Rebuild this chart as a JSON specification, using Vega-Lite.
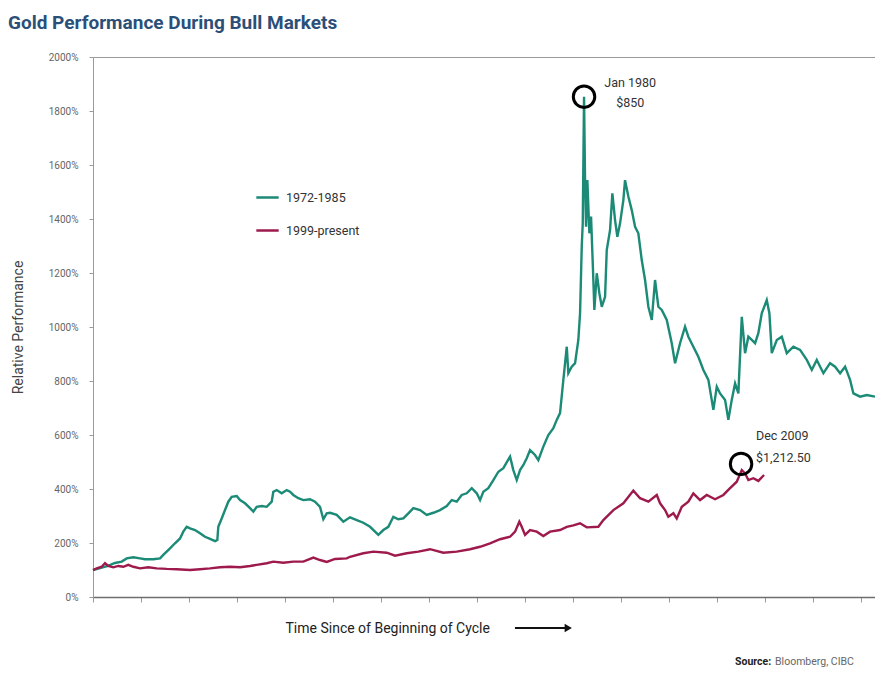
{
  "$schema": "https://vega.github.io/schema/vega-lite/v6.json",
  "width": 782,
  "height": 540,
  "autosize": {"type": "none"},
  "padding": {"left": 93, "top": 57, "right": 0, "bottom": 76},
  "background": "white",
  "config": {
    "font": "Roboto",
    "view": {"stroke": "#9a9a9a", "strokeWidth": 1}
  },
  "title": {
    "text": "Gold Performance During Bull Markets",
    "anchor": "start",
    "frame": "group",
    "dx": -85,
    "offset": 19,
    "font": "Roboto",
    "fontSize": 19,
    "fontWeight": "bold",
    "color": "#2b4f78"
  },
  "encoding": {
    "x": {
      "field": "t",
      "type": "quantitative",
      "scale": {"domain": [0, 16.29], "nice": false, "zero": false},
      "axis": {
        "title": "Time Since of Beginning of Cycle",
        "values": [0,1,2,3,4,5,6,7,8,9,10,11,12,13,14,15,16],
        "labels": false,
        "grid": false,
        "ticks": true,
        "tickSize": 5,
        "tickColor": "#9a9a9a",
        "domainColor": "#6e6e6e",
        "domainWidth": 1.5,
        "titleFont": "Roboto",
        "titleFontSize": 14,
        "titleFontWeight": "normal",
        "titleColor": "#222222",
        "titleAnchor": "start",
        "titleAlign": "left",
        "titleBaseline": "middle",
        "titleX": 192,
        "titleY": 31
      }
    },
    "y": {
      "field": "v",
      "type": "quantitative",
      "scale": {"domain": [0, 2000], "nice": false},
      "axis": {
        "title": "Relative Performance",
        "values": [0,200,400,600,800,1000,1200,1400,1600,1800,2000],
        "labelExpr": "datum.value + '%'",
        "grid": false,
        "tickSize": 4,
        "tickColor": "#9a9a9a",
        "domainColor": "#9a9a9a",
        "labelPadding": 11,
        "labelFont": "Roboto",
        "labelFontSize": 10,
        "labelColor": "#666666",
        "titleFont": "Roboto",
        "titleFontSize": 14,
        "titleFontWeight": "normal",
        "titleColor": "#444444",
        "titleAngle": 270,
        "titleAlign": "center",
        "titleBaseline": "middle",
        "titleX": -75,
        "titleY": 270
      }
    }
  },
  "layer": [
    {
      "data": {"values": [
        {"series":"1972-1985","t":0,"v":100},{"series":"1972-1985","t":0.146,"v":107},{"series":"1972-1985","t":0.313,"v":115},{"series":"1972-1985","t":0.458,"v":126},{"series":"1972-1985","t":0.598,"v":131},{"series":"1972-1985","t":0.702,"v":143},{"series":"1972-1985","t":0.84,"v":147},{"series":"1972-1985","t":0.979,"v":143},{"series":"1972-1985","t":1.083,"v":140},{"series":"1972-1985","t":1.256,"v":140},{"series":"1972-1985","t":1.396,"v":143},{"series":"1972-1985","t":1.465,"v":156},{"series":"1972-1985","t":1.604,"v":180},{"series":"1972-1985","t":1.708,"v":199},{"series":"1972-1985","t":1.813,"v":217},{"series":"1972-1985","t":1.881,"v":242},{"series":"1972-1985","t":1.952,"v":260},{"series":"1972-1985","t":2.021,"v":254},{"series":"1972-1985","t":2.125,"v":248},{"series":"1972-1985","t":2.229,"v":236},{"series":"1972-1985","t":2.333,"v":223},{"series":"1972-1985","t":2.438,"v":215},{"series":"1972-1985","t":2.542,"v":207},{"series":"1972-1985","t":2.59,"v":211},{"series":"1972-1985","t":2.61,"v":260},{"series":"1972-1985","t":2.681,"v":291},{"series":"1972-1985","t":2.75,"v":322},{"series":"1972-1985","t":2.819,"v":353},{"series":"1972-1985","t":2.89,"v":371},{"series":"1972-1985","t":2.994,"v":374},{"series":"1972-1985","t":3.063,"v":359},{"series":"1972-1985","t":3.167,"v":347},{"series":"1972-1985","t":3.271,"v":329},{"series":"1972-1985","t":3.34,"v":316},{"series":"1972-1985","t":3.41,"v":334},{"series":"1972-1985","t":3.515,"v":337},{"series":"1972-1985","t":3.619,"v":334},{"series":"1972-1985","t":3.723,"v":353},{"series":"1972-1985","t":3.756,"v":390},{"series":"1972-1985","t":3.827,"v":396},{"series":"1972-1985","t":3.931,"v":384},{"series":"1972-1985","t":4.035,"v":396},{"series":"1972-1985","t":4.104,"v":390},{"series":"1972-1985","t":4.173,"v":378},{"series":"1972-1985","t":4.277,"v":366},{"series":"1972-1985","t":4.381,"v":359},{"series":"1972-1985","t":4.521,"v":362},{"series":"1972-1985","t":4.625,"v":353},{"series":"1972-1985","t":4.729,"v":334},{"series":"1972-1985","t":4.798,"v":288},{"series":"1972-1985","t":4.869,"v":310},{"series":"1972-1985","t":4.938,"v":312},{"series":"1972-1985","t":5.077,"v":304},{"series":"1972-1985","t":5.215,"v":279},{"series":"1972-1985","t":5.354,"v":295},{"series":"1972-1985","t":5.494,"v":285},{"series":"1972-1985","t":5.631,"v":275},{"series":"1972-1985","t":5.771,"v":260},{"series":"1972-1985","t":5.875,"v":242},{"series":"1972-1985","t":5.944,"v":230},{"series":"1972-1985","t":6.048,"v":248},{"series":"1972-1985","t":6.152,"v":260},{"series":"1972-1985","t":6.256,"v":297},{"series":"1972-1985","t":6.36,"v":288},{"series":"1972-1985","t":6.465,"v":291},{"series":"1972-1985","t":6.569,"v":310},{"series":"1972-1985","t":6.673,"v":329},{"series":"1972-1985","t":6.813,"v":322},{"series":"1972-1985","t":6.952,"v":304},{"series":"1972-1985","t":7.09,"v":312},{"series":"1972-1985","t":7.229,"v":322},{"series":"1972-1985","t":7.369,"v":337},{"series":"1972-1985","t":7.473,"v":359},{"series":"1972-1985","t":7.577,"v":353},{"series":"1972-1985","t":7.681,"v":378},{"series":"1972-1985","t":7.785,"v":384},{"series":"1972-1985","t":7.89,"v":403},{"series":"1972-1985","t":7.994,"v":384},{"series":"1972-1985","t":8.063,"v":359},{"series":"1972-1985","t":8.131,"v":390},{"series":"1972-1985","t":8.235,"v":403},{"series":"1972-1985","t":8.34,"v":433},{"series":"1972-1985","t":8.444,"v":464},{"series":"1972-1985","t":8.548,"v":477},{"series":"1972-1985","t":8.688,"v":520},{"series":"1972-1985","t":8.756,"v":470},{"series":"1972-1985","t":8.827,"v":433},{"series":"1972-1985","t":8.896,"v":470},{"series":"1972-1985","t":8.965,"v":489},{"series":"1972-1985","t":9.035,"v":514},{"series":"1972-1985","t":9.104,"v":544},{"series":"1972-1985","t":9.208,"v":526},{"series":"1972-1985","t":9.277,"v":507},{"series":"1972-1985","t":9.381,"v":557},{"series":"1972-1985","t":9.485,"v":600},{"series":"1972-1985","t":9.59,"v":625},{"series":"1972-1985","t":9.66,"v":656},{"series":"1972-1985","t":9.729,"v":681},{"series":"1972-1985","t":9.798,"v":804},{"series":"1972-1985","t":9.869,"v":927},{"series":"1972-1985","t":9.902,"v":829},{"series":"1972-1985","t":9.973,"v":853},{"series":"1972-1985","t":10.042,"v":866},{"series":"1972-1985","t":10.11,"v":952},{"series":"1972-1985","t":10.146,"v":1051},{"series":"1972-1985","t":10.181,"v":1297},{"series":"1972-1985","t":10.202,"v":1384},{"series":"1972-1985","t":10.229,"v":1853},{"series":"1972-1985","t":10.25,"v":1544},{"series":"1972-1985","t":10.271,"v":1371},{"series":"1972-1985","t":10.298,"v":1544},{"series":"1972-1985","t":10.34,"v":1347},{"series":"1972-1985","t":10.375,"v":1409},{"series":"1972-1985","t":10.423,"v":1174},{"series":"1972-1985","t":10.444,"v":1063},{"series":"1972-1985","t":10.494,"v":1199},{"series":"1972-1985","t":10.548,"v":1125},{"series":"1972-1985","t":10.598,"v":1075},{"series":"1972-1985","t":10.667,"v":1112},{"series":"1972-1985","t":10.702,"v":1285},{"series":"1972-1985","t":10.771,"v":1359},{"series":"1972-1985","t":10.819,"v":1495},{"series":"1972-1985","t":10.875,"v":1396},{"series":"1972-1985","t":10.923,"v":1334},{"series":"1972-1985","t":10.979,"v":1384},{"series":"1972-1985","t":11.048,"v":1470},{"series":"1972-1985","t":11.083,"v":1544},{"series":"1972-1985","t":11.152,"v":1483},{"series":"1972-1985","t":11.223,"v":1433},{"series":"1972-1985","t":11.292,"v":1371},{"series":"1972-1985","t":11.36,"v":1347},{"series":"1972-1985","t":11.431,"v":1248},{"series":"1972-1985","t":11.5,"v":1174},{"series":"1972-1985","t":11.569,"v":1075},{"series":"1972-1985","t":11.64,"v":1026},{"series":"1972-1985","t":11.708,"v":1174},{"series":"1972-1985","t":11.777,"v":1075},{"series":"1972-1985","t":11.848,"v":1063},{"series":"1972-1985","t":11.952,"v":1026},{"series":"1972-1985","t":12.056,"v":940},{"series":"1972-1985","t":12.125,"v":866},{"series":"1972-1985","t":12.229,"v":940},{"series":"1972-1985","t":12.333,"v":1001},{"series":"1972-1985","t":12.402,"v":964},{"series":"1972-1985","t":12.506,"v":927},{"series":"1972-1985","t":12.61,"v":890},{"series":"1972-1985","t":12.715,"v":841},{"series":"1972-1985","t":12.819,"v":804},{"series":"1972-1985","t":12.923,"v":693},{"series":"1972-1985","t":12.994,"v":779},{"series":"1972-1985","t":13.063,"v":754},{"series":"1972-1985","t":13.167,"v":730},{"series":"1972-1985","t":13.235,"v":656},{"series":"1972-1985","t":13.306,"v":730},{"series":"1972-1985","t":13.375,"v":791},{"series":"1972-1985","t":13.444,"v":754},{"series":"1972-1985","t":13.515,"v":1038},{"series":"1972-1985","t":13.583,"v":903},{"series":"1972-1985","t":13.652,"v":964},{"series":"1972-1985","t":13.723,"v":952},{"series":"1972-1985","t":13.792,"v":940},{"series":"1972-1985","t":13.86,"v":977},{"series":"1972-1985","t":13.931,"v":1051},{"series":"1972-1985","t":14.035,"v":1100},{"series":"1972-1985","t":14.09,"v":1051},{"series":"1972-1985","t":14.14,"v":903},{"series":"1972-1985","t":14.244,"v":952},{"series":"1972-1985","t":14.348,"v":964},{"series":"1972-1985","t":14.452,"v":903},{"series":"1972-1985","t":14.59,"v":927},{"series":"1972-1985","t":14.729,"v":915},{"series":"1972-1985","t":14.869,"v":878},{"series":"1972-1985","t":14.973,"v":841},{"series":"1972-1985","t":15.077,"v":878},{"series":"1972-1985","t":15.215,"v":829},{"series":"1972-1985","t":15.354,"v":866},{"series":"1972-1985","t":15.458,"v":853},{"series":"1972-1985","t":15.563,"v":829},{"series":"1972-1985","t":15.667,"v":853},{"series":"1972-1985","t":15.771,"v":804},{"series":"1972-1985","t":15.84,"v":754},{"series":"1972-1985","t":15.979,"v":742},{"series":"1972-1985","t":16.119,"v":748},{"series":"1972-1985","t":16.29,"v":742},
        {"series":"1999-present","t":0,"v":100},{"series":"1999-present","t":0.077,"v":106},{"series":"1999-present","t":0.181,"v":112},{"series":"1999-present","t":0.25,"v":125},{"series":"1999-present","t":0.319,"v":115},{"series":"1999-present","t":0.423,"v":110},{"series":"1999-present","t":0.527,"v":115},{"series":"1999-present","t":0.631,"v":112},{"series":"1999-present","t":0.735,"v":119},{"series":"1999-present","t":0.84,"v":112},{"series":"1999-present","t":0.979,"v":106},{"series":"1999-present","t":1.152,"v":110},{"series":"1999-present","t":1.327,"v":106},{"series":"1999-present","t":1.535,"v":104},{"series":"1999-present","t":1.744,"v":103},{"series":"1999-present","t":2.021,"v":100},{"series":"1999-present","t":2.229,"v":103},{"series":"1999-present","t":2.438,"v":106},{"series":"1999-present","t":2.646,"v":110},{"series":"1999-present","t":2.854,"v":112},{"series":"1999-present","t":3.063,"v":110},{"series":"1999-present","t":3.271,"v":115},{"series":"1999-present","t":3.41,"v":119},{"series":"1999-present","t":3.619,"v":125},{"series":"1999-present","t":3.756,"v":131},{"series":"1999-present","t":3.965,"v":127},{"series":"1999-present","t":4.173,"v":131},{"series":"1999-present","t":4.381,"v":131},{"series":"1999-present","t":4.59,"v":146},{"series":"1999-present","t":4.729,"v":137},{"series":"1999-present","t":4.869,"v":130},{"series":"1999-present","t":5.042,"v":141},{"series":"1999-present","t":5.285,"v":143},{"series":"1999-present","t":5.354,"v":149},{"series":"1999-present","t":5.631,"v":162},{"series":"1999-present","t":5.84,"v":168},{"series":"1999-present","t":6.119,"v":164},{"series":"1999-present","t":6.292,"v":153},{"series":"1999-present","t":6.535,"v":162},{"series":"1999-present","t":6.777,"v":168},{"series":"1999-present","t":7.021,"v":177},{"series":"1999-present","t":7.298,"v":164},{"series":"1999-present","t":7.577,"v":168},{"series":"1999-present","t":7.854,"v":177},{"series":"1999-present","t":8.063,"v":186},{"series":"1999-present","t":8.271,"v":199},{"series":"1999-present","t":8.479,"v":214},{"series":"1999-present","t":8.688,"v":223},{"series":"1999-present","t":8.792,"v":242},{"series":"1999-present","t":8.881,"v":279},{"series":"1999-present","t":8.931,"v":260},{"series":"1999-present","t":9.0,"v":230},{"series":"1999-present","t":9.104,"v":248},{"series":"1999-present","t":9.244,"v":242},{"series":"1999-present","t":9.381,"v":226},{"series":"1999-present","t":9.521,"v":242},{"series":"1999-present","t":9.729,"v":248},{"series":"1999-present","t":9.869,"v":260},{"series":"1999-present","t":10.006,"v":265},{"series":"1999-present","t":10.146,"v":273},{"series":"1999-present","t":10.285,"v":258},{"series":"1999-present","t":10.527,"v":260},{"series":"1999-present","t":10.631,"v":285},{"series":"1999-present","t":10.84,"v":322},{"series":"1999-present","t":11.048,"v":347},{"series":"1999-present","t":11.256,"v":394},{"series":"1999-present","t":11.396,"v":366},{"series":"1999-present","t":11.569,"v":353},{"series":"1999-present","t":11.744,"v":378},{"series":"1999-present","t":11.813,"v":347},{"series":"1999-present","t":11.917,"v":322},{"series":"1999-present","t":11.985,"v":297},{"series":"1999-present","t":12.09,"v":310},{"series":"1999-present","t":12.16,"v":291},{"series":"1999-present","t":12.265,"v":334},{"series":"1999-present","t":12.402,"v":353},{"series":"1999-present","t":12.506,"v":384},{"series":"1999-present","t":12.646,"v":359},{"series":"1999-present","t":12.785,"v":378},{"series":"1999-present","t":12.958,"v":362},{"series":"1999-present","t":13.131,"v":378},{"series":"1999-present","t":13.271,"v":403},{"series":"1999-present","t":13.41,"v":427},{"series":"1999-present","t":13.515,"v":470},{"series":"1999-present","t":13.583,"v":458},{"series":"1999-present","t":13.652,"v":433},{"series":"1999-present","t":13.756,"v":440},{"series":"1999-present","t":13.86,"v":430},{"series":"1999-present","t":13.979,"v":452}
      ]},
      "mark": {"type": "line", "strokeWidth": 2.4, "interpolate": "linear"},
      "encoding": {
        "color": {
          "field": "series",
          "type": "nominal",
          "scale": {"domain": ["1972-1985", "1999-present"], "range": ["#1b8a76", "#9e1a4c"]},
          "legend": {
            "title": null,
            "orient": "none",
            "legendX": 162,
            "legendY": 128,
            "symbolType": "stroke",
            "symbolSize": 500,
            "symbolStrokeWidth": 2.5,
            "labelFont": "Roboto",
            "labelFontSize": 12.5,
            "labelColor": "#333333",
            "rowPadding": 14,
            "labelOffset": 6,
            "padding": 0
          }
        }
      }
    },
    {
      "data": {"values": [{"t": 10.229, "v": 1853}, {"t": 13.5, "v": 493}]},
      "mark": {"type": "point", "shape": "circle", "filled": false, "stroke": "#000000", "strokeWidth": 3, "size": 460, "opacity": 1}
    },
    {
      "data": {"values": [{"t": 11.19, "v": 1904, "label": ["Jan 1980", "$850"]}]},
      "mark": {"type": "text", "align": "center", "baseline": "middle", "font": "Roboto", "fontSize": 12.5, "lineHeight": 20, "color": "#333333"},
      "encoding": {"text": {"field": "label"}}
    },
    {
      "data": {"values": [{"t": 13.81, "v": 596, "label": ["Dec 2009", "$1,212.50"]}]},
      "mark": {"type": "text", "align": "left", "baseline": "middle", "font": "Roboto", "fontSize": 12.5, "lineHeight": 22, "color": "#333333"},
      "encoding": {"text": {"field": "label"}}
    },
    {
      "data": {"values": [{"t": 8.79, "t2": 9.88, "v": -115}]},
      "mark": {"type": "rule", "stroke": "#111111", "strokeWidth": 2},
      "encoding": {"x2": {"field": "t2"}}
    },
    {
      "data": {"values": [{"t": 9.9, "v": -115}]},
      "mark": {"type": "point", "shape": "triangle-right", "filled": true, "color": "#111111", "size": 70, "opacity": 1}
    },
    {
      "data": {"values": [{"t": 13.375, "v": -240, "label": "Source:"}]},
      "mark": {"type": "text", "align": "left", "baseline": "middle", "font": "Roboto", "fontSize": 10.5, "fontWeight": "bold", "color": "#222222"},
      "encoding": {"text": {"field": "label"}}
    },
    {
      "data": {"values": [{"t": 13.375, "v": -240, "label": "Bloomberg, CIBC"}]},
      "mark": {"type": "text", "align": "left", "baseline": "middle", "dx": 40, "font": "Roboto", "fontSize": 10.5, "color": "#666666"},
      "encoding": {"text": {"field": "label"}}
    }
  ]
}
